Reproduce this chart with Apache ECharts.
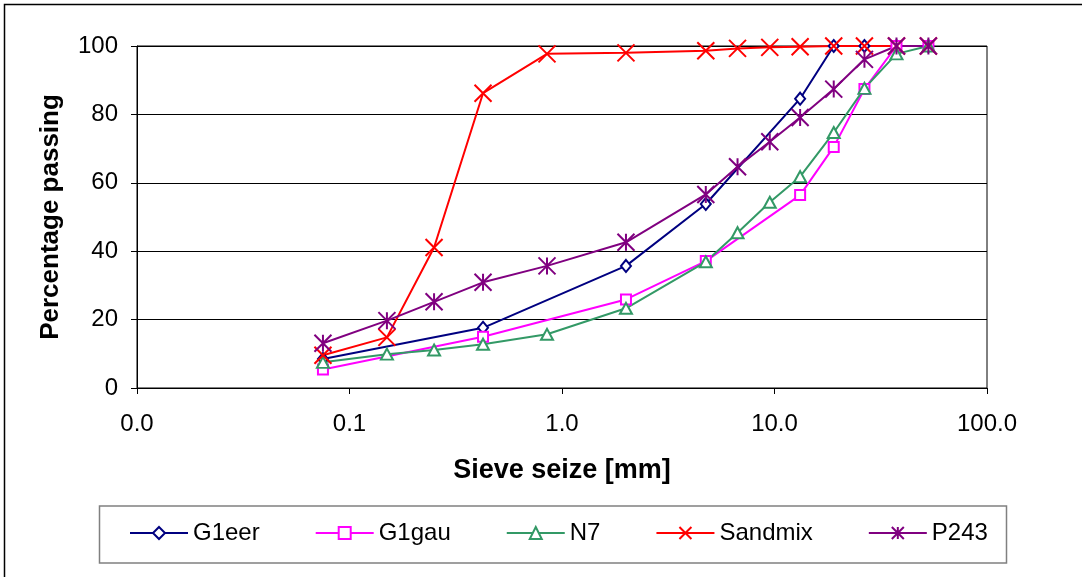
<!DOCTYPE html>
<html>
<head>
<meta charset="utf-8">
<script src="https://cdn.jsdelivr.net/npm/echarts@6/dist/echarts.min.js"></script>
<style>
html,body{margin:0;padding:0;background:#fff;}
#chart{width:1082px;height:577px;}
</style>
</head>
<body>
<div id="chart"></div>
<script>
const sieveSizes = [0.075, 0.15, 0.25, 0.425, 0.85, 2.0, 4.75, 6.7, 9.5, 13.2, 19, 26.5, 37.5, 53];
const seriesNames = ['G1eer', 'G1gau', 'N7', 'Sandmix', 'P243'];
const g1eer   = [8.5, null, null, 17.6, null, 35.7, 53.8, null, null, 84.6, 100, 100, 100, 100];
const g1gau   = [5.4, null, null, 15.0, null, 25.9, 37.1, null, null, 56.4, 70.5, 87.4, 100, 100];
const n7      = [7.5, 9.9, 11.1, 12.8, 15.7, 23.3, 36.9, 45.4, 54.3, 61.8, 74.7, 87.6, 97.7, 100];
const sandmix = [9.6, 14.8, 41.1, 86.2, 97.7, 98.0, 98.6, 99.3, 99.6, 99.8, 100, 100, 100, 100];
const p243    = [13.1, 19.7, 25.2, 30.9, 35.7, 42.6, 56.6, 64.7, 72.0, 79.1, 87.4, 96.1, 100, 100];
const xTickValues = [0.01, 0.1, 1, 10, 100];

const values = [g1eer, g1gau, n7, sandmix, p243];
const colors = ['#000080', '#FF00FF', '#339966', '#FF0000', '#800080'];
const symbols = [
  'diamond',
  'rect',
  'triangle',
  'path://M0 0 L10 10 M10 0 L0 10',
  'path://M0 0 L10 10 M10 0 L0 10 M5 0 L5 10'
];
const symbolSizes = [[10, 12], 10, [12, 11], 17, 17];

function pairs(arr) {
  const out = [];
  arr.forEach((v, i) => { if (v !== null) out.push([sieveSizes[i], v]); });
  return out;
}

const series = seriesNames.map((name, i) => ({
  name: name,
  type: 'line',
  data: pairs(values[i]),
  symbol: symbols[i],
  symbolSize: symbolSizes[i],
  showAllSymbol: true,
  connectNulls: true,
  lineStyle: { color: colors[i], width: 2 },
  itemStyle: i >= 3
    ? { color: 'transparent', borderColor: colors[i], borderWidth: 2 }
    : { color: '#ffffff', borderColor: colors[i], borderWidth: 2 },
  emphasis: { disabled: true },
  animation: false
}));

const chart = echarts.init(document.getElementById('chart'));
chart.setOption({
  animation: false,
  backgroundColor: '#ffffff',
  textStyle: { fontFamily: 'Liberation Sans, Arial, sans-serif', color: '#000' },
  grid: { left: 137, right: 95, top: 46, bottom: 189, show: true, borderColor: '#000', borderWidth: 1, backgroundColor: 'transparent' },
  xAxis: {
    type: 'log',
    logBase: 10,
    min: 0.01,
    max: 100,
    name: 'Sieve seize [mm]',
    nameLocation: 'middle',
    nameGap: 69,
    nameTextStyle: { fontSize: 27, fontWeight: 'bold', color: '#000', fontFamily: 'Liberation Sans, Arial, sans-serif' },
    axisLine: { lineStyle: { color: '#000', width: 1 } },
    axisTick: { show: true, inside: false, length: 6, lineStyle: { color: '#000' } },
    minorTick: { show: false },
    splitLine: { show: false },
    axisLabel: {
      fontSize: 24, color: '#000', margin: 24,
      formatter: v => Number(v).toFixed(1),
      customValues: xTickValues
    }
  },
  yAxis: {
    type: 'value',
    min: 0,
    max: 100,
    interval: 20,
    name: 'Percentage passing',
    nameLocation: 'middle',
    nameGap: 73,
    nameTextStyle: { fontSize: 26, fontWeight: 'bold', color: '#000', fontFamily: 'Liberation Sans, Arial, sans-serif' },
    axisLine: { show: true, lineStyle: { color: '#000', width: 1 } },
    axisTick: { show: true, inside: false, length: 6, lineStyle: { color: '#000' } },
    splitLine: { show: true, lineStyle: { color: '#000', width: 1 } },
    axisLabel: { fontSize: 24, color: '#000', margin: 19 }
  },
  legend: {
    left: 129,
    top: 521,
    padding: 0,
    itemWidth: 58,
    itemHeight: 15,
    itemGap: 55,
    textStyle: { fontSize: 24, color: '#000' },
    data: seriesNames,
    selectedMode: false
  },
  graphic: [
    { type: 'rect', shape: { x: 4.5, y: 4.5, width: 1100, height: 600 }, style: { fill: 'none', stroke: '#000', lineWidth: 1.5 }, silent: true },
    { type: 'rect', shape: { x: 99.5, y: 506, width: 907, height: 57 }, style: { fill: 'none', stroke: '#808080', lineWidth: 1.5 }, silent: true }
  ],
  series: series
});
</script>
</body>
</html>
